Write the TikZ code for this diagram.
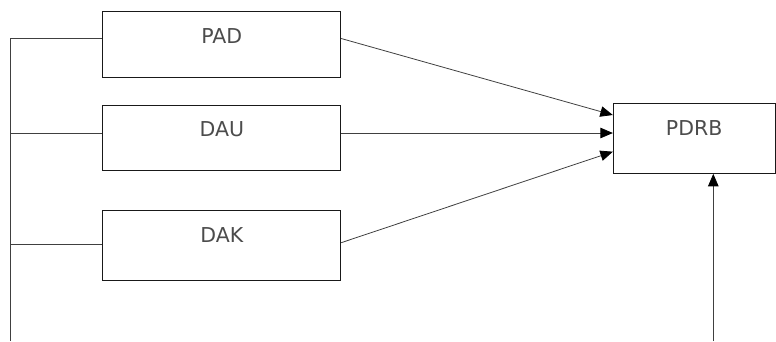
\documentclass[tikz,border=0pt]{standalone}
\usepackage{fontspec}
\setmainfont{DejaVu Sans}
\usetikzlibrary{arrows.meta,positioning}

\begin{document}
\begin{tikzpicture}[x=1pt,y=-1pt,
	var box/.style = {draw=black!90, line width=1pt,
                   minimum width=237.7pt, minimum height=65.5pt,
                   inner sep=0pt, text height=15pt, text depth=17pt,
                   text=black!70, font=\fontsize{20.5}{24}\selectfont},
	link/.style = {draw=black!75, line width=0.8pt},
	>={Triangle[length=12.5pt,width=10.5pt,fill=black,color=black]}
                   ]
\useasboundingbox (0,0) rectangle (776,341);

\node[var box] (pad) at (221.8,44.5) {PAD};
\node[var box] (dau) at (221.8,137.8) {DAU};
\node[var box, minimum height=70pt, text depth=21pt] (dak) at (221.8,245.7) {DAK};
\node[var box, minimum width=161.7pt, minimum height=70pt, text depth=20pt] (pdrb) at (694.2,138.3) {PDRB};

\coordinate (bus top) at (10,38.5);
\coordinate (bus end) at (10,341);
\coordinate (pdrb feed) at (713.3,341);

% left bus
\draw[link] (bus top) -- (bus end);
\draw[link] (bus top) -- ([yshift=6pt]pad.west);
\draw[link] (bus top |- dau.west) ++(0,-4.8) -- ([yshift=4.8pt]dau.west);
\draw[link] (bus top |- dak.west) ++(0,-1.7) -- ([yshift=1.7pt]dak.west);

% into PDRB
\draw[link,->] ([yshift=6pt]pad.east) -- ([yshift=23.3pt]pdrb.west);
\draw[link,->] ([yshift=4.8pt]dau.east) -- ([yshift=4.8pt]dau.east -| pdrb.west);
\draw[link,->] ([yshift=3pt]dak.east) -- ([yshift=-13.4pt]pdrb.west);
\draw[link,->] (pdrb feed) -- (pdrb feed |- pdrb.south);
\end{tikzpicture}
\end{document}
